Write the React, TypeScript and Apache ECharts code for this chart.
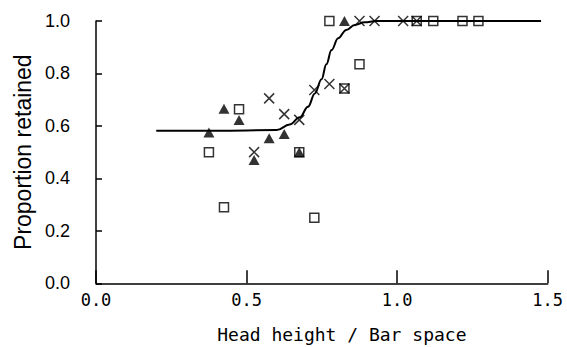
import React, { useEffect, useRef } from "react";
import * as echarts from "echarts";

const xTicks = ["0.0", "0.5", "1.0", "1.5"];
const yTicks = ["0.0", "0.2", "0.4", "0.6", "0.8", "1.0"];

const triangles: [number, number][] = [
  [0.375, 0.575], [0.425, 0.665], [0.475, 0.623], [0.525, 0.47],
  [0.575, 0.553], [0.625, 0.569], [0.675, 0.5], [0.825, 1.0],
];
const squares: [number, number][] = [
  [0.375, 0.5], [0.425, 0.29], [0.475, 0.664], [0.675, 0.5], [0.725, 0.25],
  [0.775, 1.0], [0.825, 0.743], [0.875, 0.835], [1.065, 1.0], [1.12, 1.0],
  [1.217, 1.0], [1.27, 1.0],
];
const crosses: [number, number][] = [
  [0.525, 0.5], [0.575, 0.705], [0.625, 0.645], [0.675, 0.623], [0.725, 0.737],
  [0.775, 0.76], [0.825, 0.743], [0.875, 1.0], [0.925, 1.0], [1.02, 1.0], [1.065, 1.0],
];
const curve: [number, number][] = [
  [0.2, 0.582], [0.4, 0.582], [0.6, 0.584], [0.643, 0.605], [0.677, 0.633],
  [0.704, 0.673], [0.727, 0.724], [0.749, 0.778], [0.765, 0.835], [0.782, 0.889],
  [0.804, 0.934], [0.831, 0.966], [0.859, 0.985], [0.892, 0.995], [0.93, 1.0],
  [1.2, 1.0], [1.478, 1.0],
];

const crossPath = "path://M0,0L10,10M10,0L0,10";

export default function App() {
  const ref = useRef<HTMLDivElement>(null);
  useEffect(() => {
    if (!ref.current) return;
    const chart = echarts.init(ref.current, null, { renderer: "svg" });
    chart.setOption({
      animation: false,
      backgroundColor: "#ffffff",
      grid: {
        left: 96,
        right: 19.3,
        top: 21,
        bottom: 63.7,
        containLabel: false,
        outerBoundsMode: "none",
      },
      xAxis: {
        type: "value",
        min: 0,
        max: 1.5,
        interval: 0.5,
        name: "Head height / Bar space",
        nameLocation: "middle",
        nameGap: 42,
        nameTextStyle: {
          fontFamily: "DejaVu Sans Mono",
          fontSize: 18,
          color: "#000",
          padding: [0, 0, 0, 40],
        },
        axisLine: { lineStyle: { color: "#000", width: 1.5 } },
        axisTick: { inside: true, length: 13, lineStyle: { color: "#000", width: 1.5 } },
        axisLabel: {
          margin: 8,
          fontFamily: "DejaVu Sans Mono",
          fontSize: 17,
          color: "#000",
          formatter: (v: number) => xTicks[Math.round(v / 0.5)] ?? "",
        },
        splitLine: { show: false },
      },
      yAxis: {
        type: "value",
        min: 0,
        max: 1,
        interval: 0.2,
        name: "Proportion retained",
        nameLocation: "middle",
        nameGap: 58,
        nameTextStyle: {
          fontFamily: "Liberation Sans",
          fontSize: 23,
          color: "#000",
        },
        axisLine: { show: true, lineStyle: { color: "#000", width: 1.5 } },
        axisTick: { show: true, inside: true, length: 6, lineStyle: { color: "#000", width: 1.5 } },
        axisLabel: {
          margin: 26,
          fontFamily: "Liberation Sans",
          fontSize: 18,
          color: "#000",
          formatter: (v: number) => yTicks[Math.round(v / 0.2)] ?? "",
        },
        splitLine: { show: false },
      },
      series: [
        {
          type: "scatter",
          data: squares,
          symbol: "rect",
          symbolSize: 9,
          itemStyle: { color: "transparent", borderColor: "#000", borderWidth: 1.5 },
          z: 2,
        },
        {
          type: "line",
          data: curve,
          smooth: 0.4,
          smoothMonotone: "x",
          showSymbol: false,
          lineStyle: { color: "#000", width: 2 },
          z: 3,
        },
        {
          type: "scatter",
          data: triangles,
          symbol: "triangle",
          symbolSize: [11, 10],
          itemStyle: { color: "#000" },
          z: 4,
        },
        {
          type: "scatter",
          data: crosses,
          symbol: crossPath,
          symbolSize: 10,
          itemStyle: { color: "none", borderColor: "#000", borderWidth: 1.5 },
          z: 5,
        },
      ],
    });
    return () => chart.dispose();
  }, []);
  return (
    <div
      ref={ref}
      style={{ position: "fixed", left: 0, top: 0, width: 567, height: 347, background: "#fff" }}
    />
  );
}
